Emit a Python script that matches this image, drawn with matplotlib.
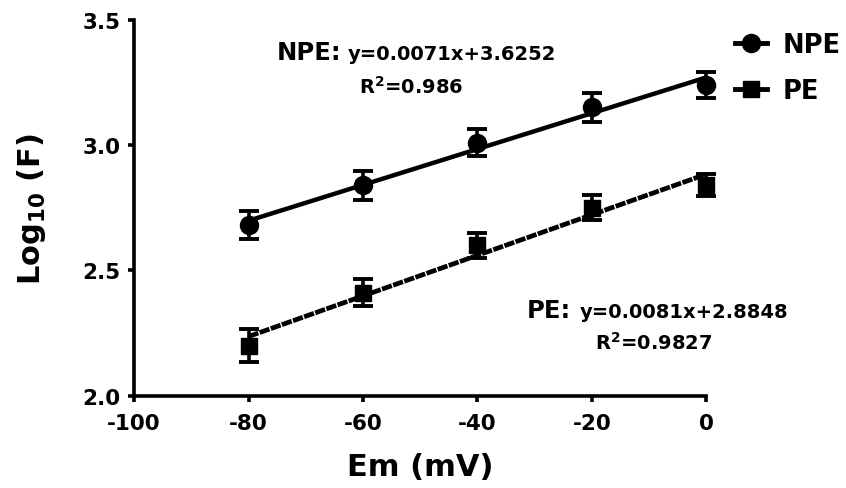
import numpy as np
import matplotlib
matplotlib.use("Agg")
import matplotlib.pyplot as plt
from matplotlib.lines import Line2D

plt.rcParams['font.family'] = ['DejaVu Sans']
plt.rcParams['font.weight'] = 'bold'
plt.rcParams['axes.labelweight'] = 'bold'
plt.rcParams['mathtext.fontset'] = 'dejavusans'
plt.rcParams['mathtext.default'] = 'bf'

# membrane potential (mV)
em = [-80, -60, -40, -20, 0]

# log10(F), mean and error
npe_mean = [2.68, 2.84, 3.01, 3.15, 3.24]
npe_err = [0.055, 0.058, 0.052, 0.057, 0.052]
pe_mean = [2.20, 2.41, 2.60, 2.75, 2.84]
pe_err = [0.065, 0.054, 0.05, 0.05, 0.045]

x_ticks = [-100, -80, -60, -40, -20, 0]
y_ticks = [2.0, 2.5, 3.0, 3.5]

fig = plt.figure(figsize=(8.46, 4.89), dpi=100)
ax = fig.add_axes([0.1584, 0.1888, 0.6767, 0.7689])

x = np.array(em, dtype=float)

# regression lines
k1, b1 = np.polyfit(x, npe_mean, 1)
k2, b2 = np.polyfit(x, pe_mean, 1)
ax.plot(x, k1 * x + b1, color='black', lw=3.2, solid_capstyle='butt', zorder=2)
ax.plot(x, k2 * x + b2, color='black', lw=3.4, linestyle=(0, (2.2, 0.3)), zorder=2)

# points with error bars
for mean, err, mk, size in [(npe_mean, npe_err, 'o', 13), (pe_mean, pe_err, 's', 12)]:
    cont = ax.errorbar(x, mean, yerr=err, fmt=mk, color='black', ms=size,
                       elinewidth=2.6, capsize=7.5, capthick=2.8, zorder=3)
    for art in cont.get_children():
        art.set_clip_on(False)

ax.set_xlim(-100, 0)
ax.set_ylim(2.0, 3.5)
ax.set_xticks(x_ticks)
ax.set_yticks(y_ticks)
ax.set_xticklabels([str(t) for t in x_ticks])
ax.set_yticklabels([f'{t:.1f}' for t in y_ticks])

for s in ['top', 'right']:
    ax.spines[s].set_visible(False)
for s in ['left', 'bottom']:
    ax.spines[s].set_linewidth(2.6)
ax.tick_params(direction='out', length=4.5, width=2.6, labelsize=15.5, pad=5)
ax.tick_params(axis='x', pad=8)

ax.set_xlabel('Em (mV)', fontsize=22, labelpad=14)
ax.set_ylabel('Log$_{10}$ (F)', fontsize=22, labelpad=25)

# equations
ax.text(-63.7, 3.343, 'NPE:', fontsize=17.5, ha='right', va='baseline')
ax.text(-62.7, 3.343, 'y=0.0071x+3.6252', fontsize=14, ha='left', va='baseline')
ax.text(-51.6, 3.210, 'R$^{2}$=0.986', fontsize=14, ha='center', va='baseline')

ax.text(-23.6, 2.313, 'PE:', fontsize=17.5, ha='right', va='baseline')
ax.text(-22.1, 2.313, 'y=0.0081x+2.8848', fontsize=14, ha='left', va='baseline')
ax.text(-9.3, 2.186, 'R$^{2}$=0.9827', fontsize=14, ha='center', va='baseline')

handles = [
    Line2D([], [], color='black', lw=3.5, marker='o', ms=13),
    Line2D([], [], color='black', lw=3.5, marker='s', ms=12),
]
fig.legend(handles, ['NPE', 'PE'], loc='upper left', bbox_to_anchor=(0.857, 0.953),
           frameon=False, fontsize=18.5, handlelength=1.25, handletextpad=0.6,
           labelspacing=0.78, borderaxespad=0)

fig.savefig('out.png', dpi=100)
